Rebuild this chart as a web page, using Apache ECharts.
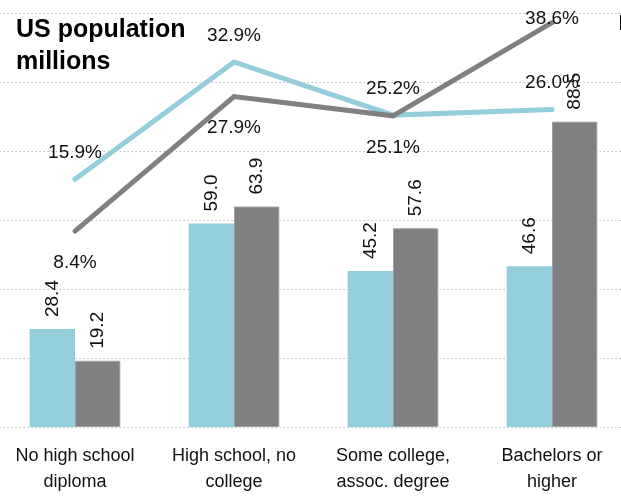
<!DOCTYPE html>
<html>
<head>
<meta charset="utf-8">
<script src="https://cdn.jsdelivr.net/npm/echarts@6/dist/echarts.min.js"></script>
<style>
  html, body { margin: 0; padding: 0; background: #fff; }
  #chart { width: 621px; height: 498px; }
</style>
</head>
<body>
<div id="chart"></div>
<script>
// Education level categories
const categories = ['No high school\ndiploma', 'High school, no\ncollege', 'Some college,\nassoc. degree', 'Bachelors or\nhigher'];

// Population in millions (bars)
const popLight = [28.4, 59.0, 45.2, 46.6];
const popDark = [19.2, 63.9, 57.6, 88.5];

// Share of group in percent (lines)
const shareLight = [15.9, 32.9, 25.2, 26.0];
const shareDark = [8.4, 27.9, 25.1, 38.6];

// Label placement for the dark share line
const darkLabelPos = ['bottom', 'bottom', 'bottom', 'inside'];

const LIGHT = '#94cddc';
const DARK = '#808080';
const FONT = '"Liberation Sans", Arial, sans-serif';

const chart = echarts.init(document.getElementById('chart'), null, { renderer: 'canvas' });

const barLabel = {
  show: true,
  position: 'top',
  rotate: 90,
  align: 'left',
  verticalAlign: 'middle',
  distance: 12,
  color: '#111',
  fontFamily: FONT,
  fontSize: 19,
  formatter: p => p.value.toFixed(1)
};

chart.setOption({
  animation: false,
  title: {
    text: 'US population\nmillions',
    left: 11,
    top: 9,
    textStyle: {
      fontFamily: FONT,
      fontWeight: 'bold',
      fontSize: 25,
      lineHeight: 32,
      color: '#000'
    }
  },
  graphic: [{
    type: 'text',
    left: 618,
    top: 13,
    style: { text: 'I', fontFamily: FONT, fontSize: 22, fill: '#000' }
  }],
  // plot area runs slightly past both edges of the canvas
  grid: {
    left: -4.5, width: 636, top: 13, bottom: 71,
    containLabel: false,
    outerBoundsMode: 'none'
  },
  xAxis: {
    type: 'category',
    data: categories,
    axisLine: { show: false },
    axisTick: { show: false },
    axisLabel: {
      color: '#111',
      fontFamily: FONT,
      fontSize: 18,
      lineHeight: 26,
      margin: 16,
      interval: 0
    }
  },
  yAxis: [{
    type: 'value',
    min: 0,
    max: 120,
    interval: 20,
    axisLabel: { show: false },
    axisLine: { show: false },
    axisTick: { show: false },
    splitLine: { lineStyle: { type: [1.5, 2.5], color: '#bdbdbd', width: 1 } }
  }, {
    type: 'value',
    min: -20,
    max: 40,
    interval: 10,
    axisLabel: { show: false },
    axisLine: { show: false },
    axisTick: { show: false },
    splitLine: { show: false }
  }],
  series: [{
    type: 'bar',
    data: popLight,
    barGap: '0%',
    barCategoryGap: '43%',
    itemStyle: { color: LIGHT },
    label: barLabel
  }, {
    type: 'bar',
    data: popDark,
    itemStyle: { color: DARK, borderColor: '#a0a0a0', borderWidth: 1 },
    label: barLabel
  }, {
    type: 'line',
    yAxisIndex: 1,
    data: shareLight,
    symbol: 'circle',
    symbolSize: 0,
    lineStyle: { color: LIGHT, width: 5, cap: 'round', join: 'miter' },
    itemStyle: { color: LIGHT },
    label: {
      show: true,
      position: 'top',
      distance: 17,
      color: '#111',
      fontFamily: FONT,
      fontSize: 19,
      formatter: p => p.value.toFixed(1) + '%'
    },
    z: 3
  }, {
    type: 'line',
    yAxisIndex: 1,
    data: shareDark.map((v, i) => ({
      value: v,
      label: { position: darkLabelPos[i], offset: darkLabelPos[i] === 'inside' ? [0, -4] : [0, 0] }
    })),
    symbol: 'circle',
    symbolSize: 0,
    lineStyle: { color: DARK, width: 5, cap: 'round', join: 'miter' },
    itemStyle: { color: DARK },
    label: {
      show: true,
      distance: 22,
      color: '#111',
      fontFamily: FONT,
      fontSize: 19,
      formatter: p => p.value.toFixed(1) + '%'
    },
    z: 4
  }]
});
</script>
</body>
</html>
